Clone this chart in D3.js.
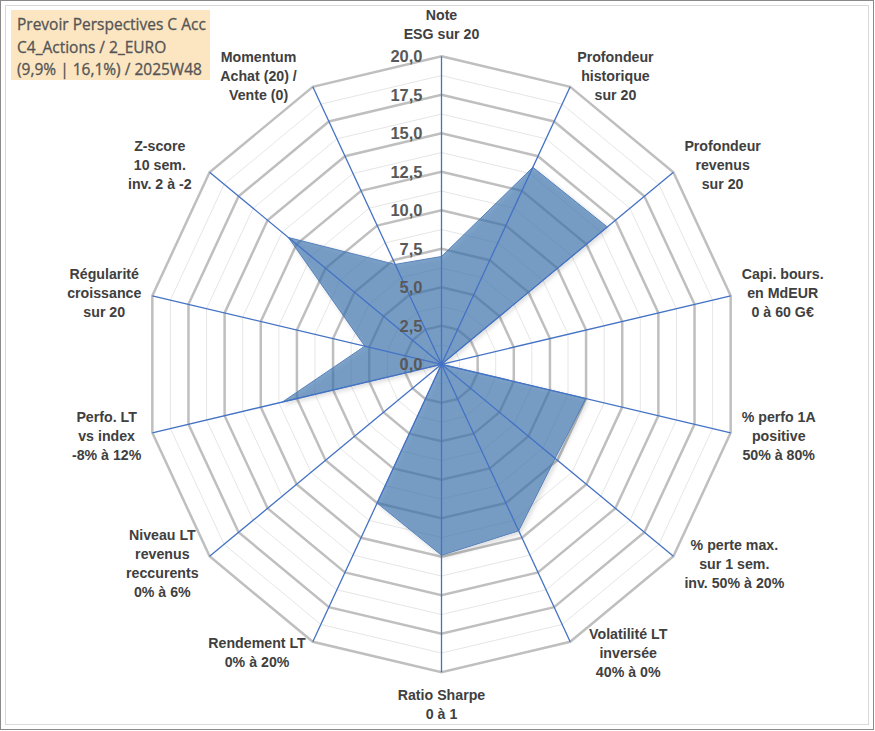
<!DOCTYPE html>
<html>
<head>
<meta charset="utf-8">
<script src="https://cdn.jsdelivr.net/npm/d3@7"></script>
<style>
  body { margin: 0; background: #fff; }
  svg { display: block; }
</style>
</head>
<body>
<div id="chart"></div>
<script>
// axis labels, clockwise from the top
const categories = [
  ["Note", "ESG sur 20"],
  ["Profondeur", "historique", "sur 20"],
  ["Profondeur", "revenus", "sur 20"],
  ["Capi. bours.", "en MdEUR", "0 à 60 G€"],
  ["% perfo 1A", "positive", "50% à 80%"],
  ["% perte max.", "sur 1 sem.", "inv. 50% à 20%"],
  ["Volatilité LT", "inversée", "40% à 0%"],
  ["Ratio Sharpe", "0 à 1"],
  ["Rendement LT", "0% à 20%"],
  ["Niveau LT", "revenus", "reccurents", "0% à 6%"],
  ["Perfo. LT", "vs index", "-8% à 12%"],
  ["Régularité", "croissance", "sur 20"],
  ["Z-score", "10 sem.", "inv. 2 à -2"],
  ["Momentum", "Achat (20) /", "Vente (0)"]
];
const scores = [7.0, 14.2, 14.3, 0, 10.0, 9.8, 12.0, 12.4, 10.0, 0, 11.0, 5.3, 13.2, 7.2];
const tickValues = [0, 2.5, 5, 7.5, 10, 12.5, 15, 17.5, 20];
const minorTicks = [1.25, 3.75, 6.25, 8.75, 11.25, 13.75, 16.25, 18.75];
const titleLines = ["Prevoir Perspectives C Acc", "C4_Actions / 2_EURO", "(9,9% | 16,1%) / 2025W48"];

const width = 875, height = 731;
const cx = 441.5, cy = 364.3;
const xStretch = 0.963;   // picture is a bit narrower than tall

const svg = d3.select("#chart").append("svg")
  .attr("width", width)
  .attr("height", height);

// frame
svg.append("rect").attr("x", 0.5).attr("y", 0.5).attr("width", width - 2).attr("height", height - 2)
  .attr("fill", "#fff").attr("stroke", "#8a8a8a");
svg.append("rect").attr("x", 5.5).attr("y", 5.5).attr("width", width - 12).attr("height", height - 12)
  .attr("fill", "none").attr("stroke", "#d9d9d9");

const r = d3.scaleLinear().domain([0, 20]).range([0, 308]);
const angle = d3.scaleLinear().domain([0, categories.length]).range([0, 2 * Math.PI]);

function pt(i, v) {
  const a = angle(i);
  return [cx + r(v) * Math.sin(a) * xStretch, cy - r(v) * Math.cos(a)];
}
function ring(v) {
  return d3.range(categories.length).map(i => pt(i, v));
}
const line = d3.line().curve(d3.curveLinearClosed);

const g = svg.append("g");

// minor rings
g.selectAll(".minor").data(minorTicks).join("path")
  .attr("d", d => line(ring(d)))
  .attr("fill", "none").attr("stroke", "#e6e6e6").attr("stroke-width", 1);

// major rings
g.selectAll(".major").data(tickValues.filter(d => d > 0)).join("path")
  .attr("d", d => line(ring(d)))
  .attr("fill", "none").attr("stroke", "#bfbfbf").attr("stroke-width", 2.5);

// shadow for the area
const defs = svg.append("defs");
const f = defs.append("filter").attr("id", "shadow").attr("x", "-10%").attr("y", "-10%").attr("width", "130%").attr("height", "130%");
f.append("feDropShadow").attr("dx", 2).attr("dy", 2).attr("stdDeviation", 2).attr("flood-color", "#000").attr("flood-opacity", 0.2);

// data area
g.append("path")
  .attr("d", line(scores.map((v, i) => pt(i, v))))
  .attr("fill", "#3b73ae").attr("fill-opacity", 0.64)
  .attr("stroke", "#5580bb").attr("stroke-width", 1)
  .attr("filter", "url(#shadow)");

// spokes
g.selectAll(".spoke").data(categories).join("line")
  .attr("x1", cx).attr("y1", cy)
  .attr("x2", (d, i) => pt(i, 20)[0])
  .attr("y2", (d, i) => pt(i, 20)[1])
  .attr("stroke", "#4472c4").attr("stroke-width", 1.3);

// tick labels along the top spoke
g.selectAll(".tick").data(tickValues).join("text")
  .attr("x", cx - 19)
  .attr("y", d => cy - r(d))
  .attr("dy", "0.35em")
  .attr("text-anchor", "end")
  .attr("font-family", "Liberation Sans, Arial, sans-serif")
  .attr("font-weight", "bold")
  .attr("font-size", 16.5)
  .attr("fill", "#595959")
  .text(d => d3.format(".1f")(d).replace(".", ","));

// category labels
const lh = 19;
const labels = g.selectAll(".lab").data(categories).join("text")
  .attr("font-family", "Liberation Sans, Arial, sans-serif")
  .attr("font-weight", "bold")
  .attr("font-size", 14.2)
  .attr("fill", "#404040")
  .attr("text-anchor", "middle");

labels.each(function(lines, i) {
  const t = d3.select(this);
  lines.forEach((s, k) => t.append("tspan").attr("dy", k === 0 ? 0 : lh).text(s));
  let w = 0;
  t.selectAll("tspan").each(function() { w = Math.max(w, this.getComputedTextLength()); });
  const a = angle(i);
  const s = Math.sin(a), c = Math.cos(a);
  const [tx, ty] = pt(i, 20);
  const h = lines.length * lh;
  let x, yc;
  if (Math.abs(s) < 0.1) {
    x = tx;
    yc = ty - c * (h / 2 + 13);
  } else {
    // gap between spoke tip and label box, roughly as Excel puts it
    let gap = 11;
    if (c > 0.8) gap = s > 0 ? 7 : 16;
    else if (c < -0.8) gap = s > 0 ? 19 : 7;
    else if (c > 0.5 && s < 0) gap = 18;
    x = tx + Math.sign(s) * (w / 2 + gap);
    yc = ty - c * 12;
  }
  const y0 = yc - h / 2 + lh / 2;
  t.selectAll("tspan").attr("x", x);
  t.attr("y", y0).attr("dominant-baseline", "central");
  t.selectAll("tspan").attr("dominant-baseline", "central");
});

// title box
svg.append("rect").attr("x", 11).attr("y", 10).attr("width", 199).attr("height", 70)
  .attr("fill", "#fce6c2");
svg.append("text")
  .attr("font-family", "Open Sans, Liberation Sans, sans-serif")
  .attr("font-size", 15.5)
  .attr("fill", "#555")
  .attr("stroke", "#555").attr("stroke-width", 0.3)
  .selectAll("tspan").data(titleLines).join("tspan")
  .attr("x", 17)
  .attr("y", (d, i) => 24 + i * 22.5)
  .attr("dominant-baseline", "central")
  .text(d => d);
</script>
</body>
</html>
